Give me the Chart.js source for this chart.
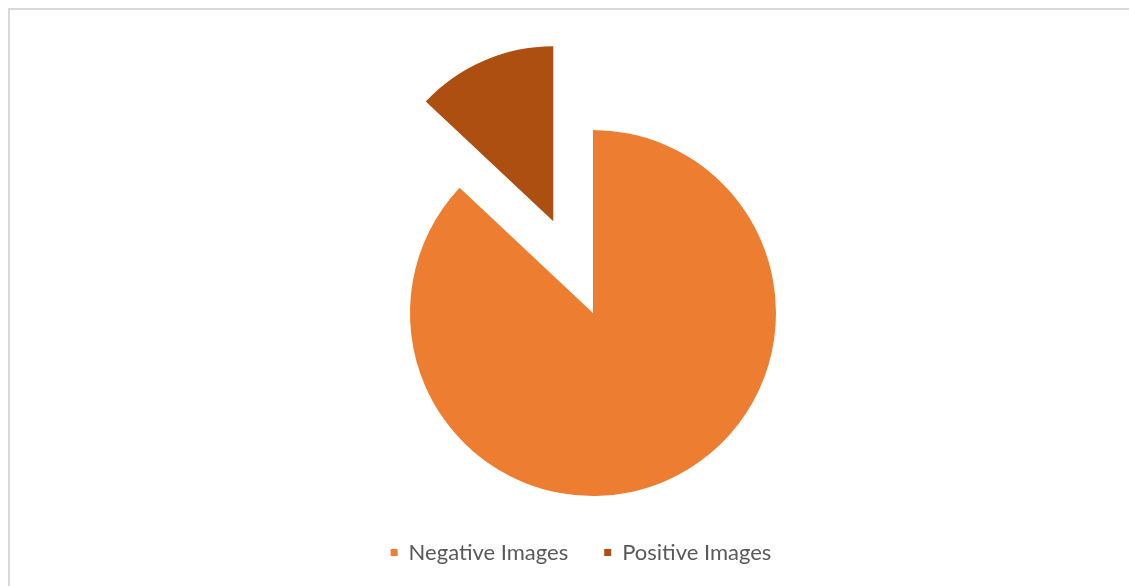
<!DOCTYPE html>
<html>
<head>
<meta charset="utf-8">
<script src="https://cdn.jsdelivr.net/npm/chart.js@4.4.1/dist/chart.umd.min.js"></script>
<style>
  html, body { margin: 0; padding: 0; background: #fff; overflow: hidden; }
  #frame { position: absolute; left: 8px; top: 8px; width: 1200px; height: 700px;
           border-left: 2px solid #d9d9d9; border-top: 2px solid #d9d9d9; }
  #chart { position: absolute; left: 0; top: 0; }
</style>
</head>
<body>
<div id="frame"></div>
<canvas id="chart" width="1129" height="586"></canvas>
<script>
// Data
const categories = ['Negative Images', 'Positive Images'];
const values = [87, 13];
const colors = ['#ED7D31', '#AC4F10'];
// how far each slice is pulled out of the pie, in px
const explode = [0, 100];
const explodeScale = 0.956;

// Move exploded slices out along their mid angle while drawing
const explodePlugin = {
	id: 'explode',
	beforeDatasetsDraw(chart) {
		const meta = chart.getDatasetMeta(0);
		meta.data.forEach((arc, i) => {
			const d = explode[i];
			if (!d) return;
			arc._saved = {x: arc.x, y: arc.y, r: arc.outerRadius};
			const mid = (arc.startAngle + arc.endAngle) / 2;
			arc.x += Math.cos(mid) * d;
			arc.y += Math.sin(mid) * d;
			arc.outerRadius *= explodeScale;
		});
	},
	afterDatasetsDraw(chart) {
		const meta = chart.getDatasetMeta(0);
		meta.data.forEach((arc) => {
			if (!arc._saved) return;
			arc.x = arc._saved.x;
			arc.y = arc._saved.y;
			arc.outerRadius = arc._saved.r;
			arc._saved = null;
		});
	}
};

const ctx = document.getElementById('chart');
new Chart(ctx, {
	type: 'pie',
	data: {
		labels: categories,
		datasets: [{
			data: values,
			backgroundColor: colors,
			borderWidth: 0
		}]
	},
	options: {
		responsive: false,
		animation: false,
		radius: 183,
		layout: {
			padding: {left: 33, right: 0, top: 120.5, bottom: 12.5}
		},
		plugins: {
			// empty box on the left, nudges the pie right of the legend centre
			title: {
				display: true,
				position: 'left',
				text: '',
				padding: 0,
				font: {size: 20}
			},
			tooltip: {enabled: false},
			legend: {
				position: 'bottom',
				labels: {
					boxWidth: 7,
					boxHeight: 7,
					padding: 36,
					color: '#595959',
					font: {family: 'Lato', size: 22}
				}
			}
		}
	},
	plugins: [explodePlugin]
});
</script>
</body>
</html>
